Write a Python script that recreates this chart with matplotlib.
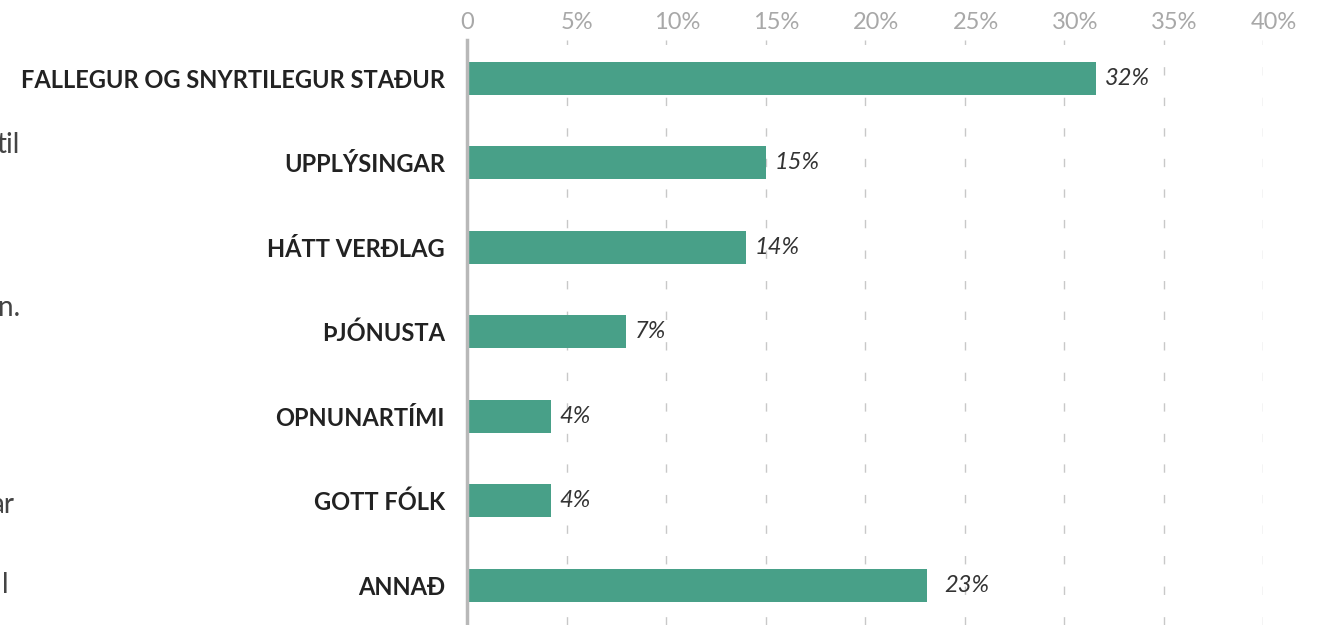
import matplotlib.pyplot as plt
import matplotlib.transforms as mtransforms
import numpy as np

plt.rcParams['font.family'] = ['Lato', 'DejaVu Sans']

categories = ['FALLEGUR OG SNYRTILEGUR STAÐUR', 'UPPLÝSINGAR', 'HÁTT VERÐLAG',
              'ÞJÓNUSTA', 'OPNUNARTÍMI', 'GOTT FÓLK', 'ANNAÐ']
values = [31.6, 15.0, 14.0, 8.0, 4.2, 4.2, 23.1]
value_labels = ['32%', '15%', '14%', '7%', '4%', '4%', '23%']
label_offsets = [0.0, 0.0, 0.0, 0.0, 0.0, 0.0, 0.45]
x_ticks = [0, 5, 10, 15, 20, 25, 30, 35, 40]
x_tick_labels = ['0', '5%', '10%', '15%', '20%', '25%', '30%', '35%', '40%']
side_text = ['til', 'n.', 'ar', 'l']
side_text_y = [145, 308, 505, 585]
side_text_x = [20, 20, 14, 9]

W, H = 1317, 625
fig = plt.figure(figsize=(W / 100, H / 100), dpi=100)
ax = fig.add_axes([467 / W, 0, (1263 - 467) / W, 1 - 40 / H])

y = np.arange(len(categories))
ax.barh(y, values, height=0.39, color='#48a088', zorder=3)

for yi, v, lab, off in zip(y, values, value_labels, label_offsets):
    ax.text(v + 0.45 + off, yi, lab, va='center', ha='left', fontsize=17,
            style='italic', color='#333333')

ax.set_xlim(0, 40)
ax.set_ylim(6.47, -0.45)
ax.set_xticks(x_ticks)
ax.set_xticklabels(x_tick_labels)
ax.xaxis.tick_top()
ax.tick_params(axis='x', length=0, pad=5, labelsize=17, labelcolor='#a8a8a8')
# percent labels sit a bit right of their gridline in the original
shift = mtransforms.ScaledTranslation(0.11, 0, fig.dpi_scale_trans)
for t in ax.get_xticklabels()[1:]:
    t.set_transform(t.get_transform() + shift)

ax.set_yticks(y)
ax.set_yticklabels(categories)
ax.tick_params(axis='y', length=0, pad=16, labelsize=17)
for t in ax.get_yticklabels():
    t.set_fontweight('bold')
    t.set_color('#222222')

ax.grid(True, axis='x', color='#c8c8c8', linewidth=1, linestyle=(0, (6, 16)), zorder=0)
for s in ['top', 'right', 'bottom']:
    ax.spines[s].set_visible(False)
ax.spines['left'].set_color('#b8b8b8')
ax.spines['left'].set_linewidth(2.5)
ax.spines['left'].set_zorder(4)

for txt, ty, tx in zip(side_text, side_text_y, side_text_x):
    fig.text(tx / W, 1 - ty / H, txt, ha='right', va='center', fontsize=20, color='#444444')

fig.savefig('out.png', dpi=100)
